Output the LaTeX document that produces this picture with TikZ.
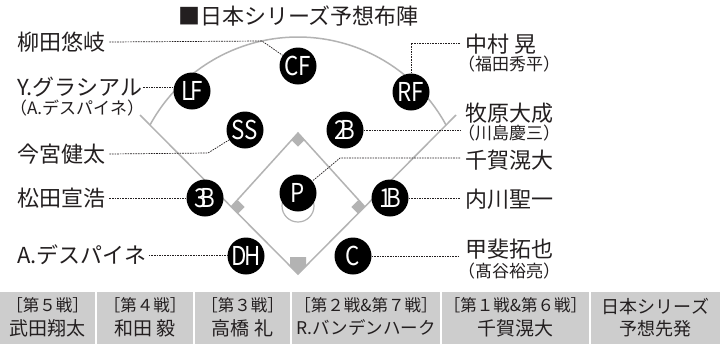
\documentclass[tikz,border=0pt]{standalone}
\usepackage{fontspec}
\setmainfont{Noto Sans CJK JP}
\usepackage{graphicx}
\definecolor{fieldgray}{HTML}{B3B3B3}
\definecolor{cellgray}{HTML}{CDCDCD}
\definecolor{ink}{HTML}{231F20}
\newcommand\fsz[1]{\fontsize{#1}{#1}\selectfont}
\newcommand\pl[1]{\scalebox{0.86}[1]{#1}}
\begin{document}
\begin{tikzpicture}[x=1pt,y=-1pt,
  posdot/.style={circle, fill=black, minimum size=37pt, inner sep=0pt, text=white, font=\fsz{26}},
  lead/.style={draw=ink, line width=0.7pt, dash pattern=on 1.6pt off 1pt},
  field/.style={draw=fieldgray, line width=1.5pt},
  basesq/.style={shape=rectangle, fill=fieldgray, rotate=45, minimum size=9.5pt, inner sep=0pt},
  nm/.style={font=\fsz{22}, text=ink, inner sep=0pt, anchor=west},
  sb/.style={font=\fsz{17}, text=ink, inner sep=0pt, anchor=west},
  cellbox/.style={fill=cellgray, minimum height=52pt, inner sep=0pt},
  gm/.style={font=\fsz{16.5}, text=ink, inner sep=0pt},
  pn/.style={font=\fsz{19}, text=ink, inner sep=0pt}]
\useasboundingbox[fill=white] (0,0) rectangle (720,354);

% title
\node[font=\fsz{22}, text=ink, inner sep=0pt] (title) at (298.5,16) {■日本シリーズ予想布陣};

% field
\draw[field] plot[domain=151.5:28.5, samples=80] ({298+168.5*cos(\x)},{205.5-168.5*sin(\x)});
\draw[field] (140,115) -- (298,274) -- (456,115);
\draw[field] (231,207) -- (298,133) -- (365,207);
\node[basesq] (b2) at (298,140) {};
\node[basesq] (b3) at (238,207) {};
\node[basesq] (b1) at (358,207) {};
\fill[fieldgray] (290,257) -- (306,257) -- (306,266) -- (298,274.5) -- (290,266) -- cycle;
\draw[fieldgray, line width=1.2pt] (298,206) circle[radius=16pt];

% positions
\node[posdot] (CF) at (298,66) {\pl{CF}};
\node[posdot] (LF) at (192,91) {\pl{L\kern-3pt F}};
\node[posdot] (RF) at (411,92) {\pl{RF}};
\node[posdot] (SS) at (245,130) {\pl{SS}};
\node[posdot] (2B) at (345,130) {\pl{2\kern-7pt B}};
\node[posdot] (P) at (298,193) {\pl{P}};
\node[posdot] (3B) at (205,198) {\pl{3\kern-7pt B}};
\node[posdot] (1B) at (390,198) {\pl{1\kern-6pt B}};
\node[posdot] (DH) at (246,256) {\pl{D\kern-3pt H}};
\node[posdot] (C) at (353,256) {\pl{C}};

% left labels
\node[nm] (yanagita) at (17,42) {柳田悠岐};
\node[nm] (gracial) at (17,87) {Y.グラシアル};
\node[sb] (gracialsub) at (17,108) {\kern-0.42em（A.デスパイネ）};
\node[nm] (imamiya) at (17,154) {今宮健太};
\node[nm] (matsuda) at (17,198) {松田宣浩};
\node[nm] (despaigne) at (17,255) {A.デスパイネ};

% right labels
\node[nm] (nakamura) at (465,44) {中村 晃};
\node[sb] (nakamurasub) at (465,64) {\kern-0.42em（福田秀平）};
\node[nm] (makihara) at (465,113) {牧原大成};
\node[sb] (makiharasub) at (465,133) {\kern-0.42em（川島慶三）};
\node[nm] (senga) at (465,160) {千賀滉大};
\node[nm] (uchikawa) at (465,199) {内川聖一};
\node[nm] (kai) at (465,249) {甲斐拓也};
\node[sb] (kaisub) at (465,271) {\kern-0.42em（髙谷裕亮）};

% leads
\coordinate (cfbend) at (262,41);
\coordinate (ssbend) at (208,153);
\coordinate (rfbend) at (411,43);
\coordinate (pbend) at (340,158);
\coordinate (rfend) at (460,43);
\coordinate (mkend) at (460,130);
\coordinate (spend) at (460,158);
\coordinate (ucend) at (460,198);
\coordinate (kaend) at (458,256);
\draw[lead] ([xshift=4pt]yanagita.east) -- (cfbend) -- (CF);
\draw[lead] ([xshift=1pt]gracial.east) -- (LF.west |- gracial.east);
\draw[lead] ([xshift=4pt]imamiya.east) -- (ssbend) -- (SS);
\draw[lead] ([xshift=4pt]matsuda.east) -- (3B.west |- matsuda.east);
\draw[lead] ([xshift=2pt]despaigne.east) -- (DH.west |- despaigne.east);
\draw[lead] (rfend) -- (rfbend) -- (RF.north);
\draw[lead] (2B.east) -- (mkend);
\draw[lead] (spend) -- (pbend) -- (P);
\draw[lead] (1B.east) -- (ucend);
\draw[lead] (C.east) -- (kaend);

% table
\node[cellbox, minimum width=95pt] (t1) at (47.5,318) {};
\node[cellbox, minimum width=96pt] (t2) at (145,318) {};
\node[cellbox, minimum width=95pt] (t3) at (242.5,318) {};
\node[cellbox, minimum width=148pt] (t4) at (366,318) {};
\node[cellbox, minimum width=147pt] (t5) at (515.5,318) {};
\node[cellbox, minimum width=129pt] (t6) at (655.5,318) {};

\node[gm] (t1a) at (t1.center |- 0,305) {［第５戦］};
\node[pn] (t1b) at (t1.center |- 0,328) {武田翔太};
\node[gm] (t2a) at (t2.center |- 0,305) {［第４戦］};
\node[pn] (t2b) at (t2.center |- 0,328) {和田 毅};
\node[gm] (t3a) at (t3.center |- 0,305) {［第３戦］};
\node[pn] (t3b) at (t3.center |- 0,328) {高橋 礼};
\node[gm] (t4a) at (t4.center |- 0,305) {［第２戦\&第７戦］};
\node[pn, font=\fsz{17.5}] (t4b) at (t4.center |- 0,328) {R.バンデンハーク};
\node[gm] (t5a) at (t5.center |- 0,305) {［第１戦\&第６戦］};
\node[pn] (t5b) at (t5.center |- 0,328) {千賀滉大};
\node[pn, font=\fsz{18}] (t6a) at (t6.center |- 0,307) {日本シリーズ};
\node[pn, font=\fsz{18}] (t6b) at (t6.center |- 0,329) {予想先発};
\end{tikzpicture}
\end{document}
